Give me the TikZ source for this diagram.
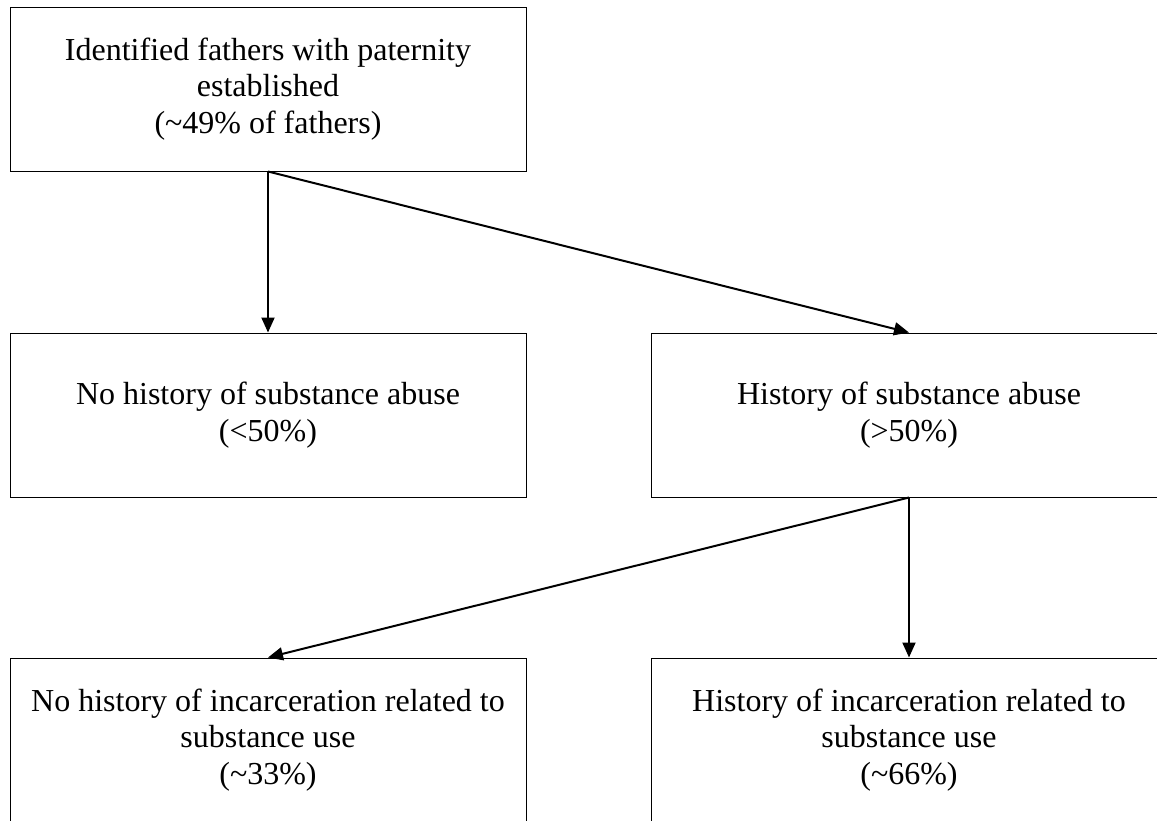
\documentclass[tikz,border=0pt]{standalone}
\usepackage{fontspec}
\setmainfont{Liberation Serif}
\usetikzlibrary{arrows.meta}
\begin{document}
\begin{tikzpicture}[x=1pt,y=-1pt,
  box/.style={draw=black, line width=1pt, rectangle, minimum width=516pt, minimum height=164pt,
    inner sep=0pt, align=center, font=\fontsize{32}{36.8}\selectfont},
  arr/.style={line width=2pt, -{Triangle[length=15pt,width=13pt]}}]
\useasboundingbox (0,0) rectangle (1157,820);
\clip (0,0) rectangle (1157,820);
\node[box] (top) at (268,89) {Identified fathers with paternity\\established\\(\textasciitilde 49\% of fathers)};
\node[box] (ml) at (268,415) {No history of substance abuse\\(<50\%)};
\node[box] (mr) at (909,415) {History of substance abuse\\(>50\%)};
\node[box] (bl) at (268,740) {No history of incarceration related to\\substance use\\(\textasciitilde 33\%)};
\node[box] (br) at (909,740) {History of incarceration related to\\substance use\\(\textasciitilde 66\%)};
\draw[arr] (top.south) -- (ml.north);
\draw[arr] (top.south) -- (mr.north);
\draw[arr] (mr.south) -- (bl.north);
\draw[arr] (mr.south) -- (br.north);
\end{tikzpicture}
\end{document}
